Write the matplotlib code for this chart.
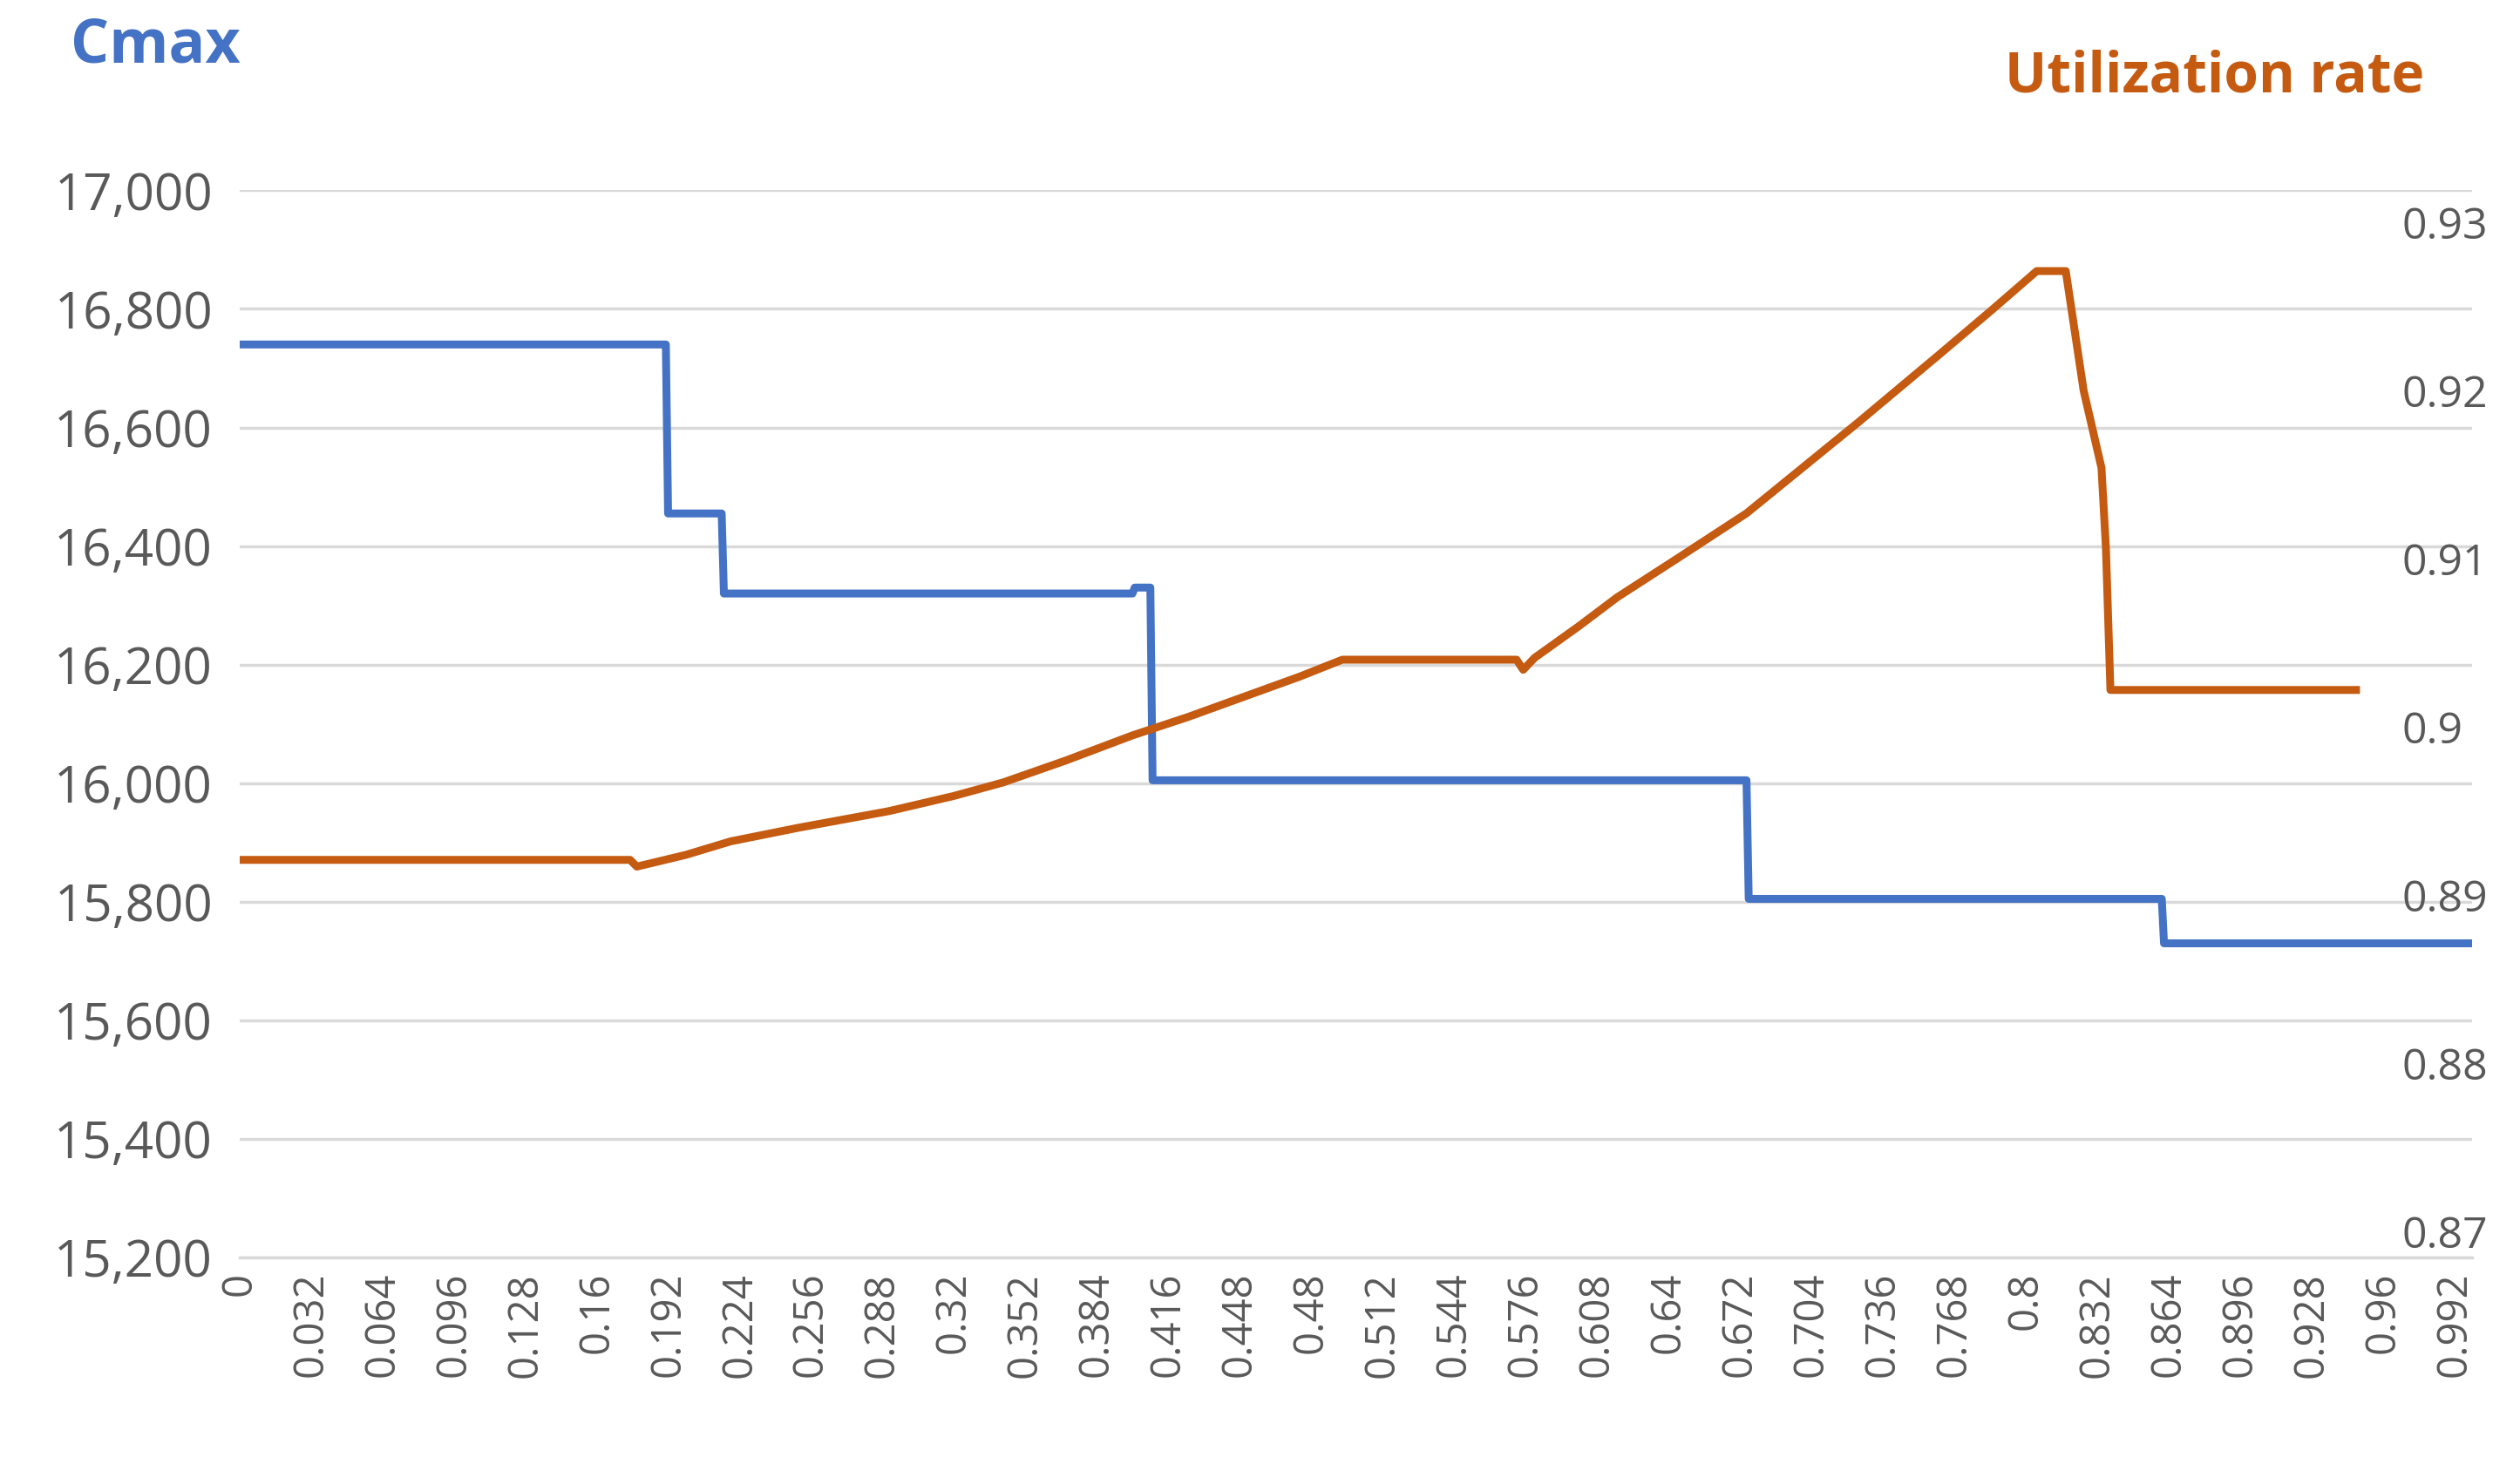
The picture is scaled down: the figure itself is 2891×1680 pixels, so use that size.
import matplotlib.pyplot as plt
import numpy as np

# Cmax (left axis), step series
cmax_x = [0, 0.191, 0.192, 0.216, 0.217, 0.400, 0.401, 0.408, 0.409, 0.675, 0.676, 0.861, 0.862, 1.0]
cmax_y = [16740, 16740, 16455, 16455, 16320, 16320, 16330, 16330, 16005, 16005, 15805, 15805, 15730, 15730]

# Utilization rate (right axis)
util_x = [0, 0.175, 0.178, 0.20, 0.22, 0.25, 0.291, 0.32, 0.342, 0.37, 0.400, 0.425, 0.450, 0.475, 0.494,
          0.572, 0.575, 0.580, 0.60, 0.617, 0.645, 0.675, 0.70, 0.725, 0.761, 0.785, 0.805, 0.818, 0.826,
          0.834, 0.836, 0.838, 0.948]
util_y = [0.8921, 0.8921, 0.8917, 0.8924, 0.8932, 0.8940, 0.8950, 0.8959, 0.8967, 0.8980, 0.8995, 0.9006,
          0.9018, 0.9030, 0.9040, 0.9040, 0.9034, 0.9041, 0.9060, 0.9077, 0.9101, 0.9127, 0.9154, 0.9181,
          0.9221, 0.9248, 0.9271, 0.9271, 0.9200, 0.9154, 0.9106, 0.9022, 0.9022]

xticks = np.round(np.arange(0, 1.0, 0.032), 3)
xlabels = [f"{t:g}" for t in xticks]

plt.rcParams['font.family'] = ['Open Sans', 'DejaVu Sans']
gray = "#595959"
blue = "#4472C4"
orange = "#C55A11"

fig = plt.figure(figsize=(28.91, 16.8), dpi=100)
ax = fig.add_axes([0.095, 0.141, 0.886, 0.729])
ax2 = ax.twinx()

ax.plot(cmax_x, cmax_y, color=blue, lw=6.5)
ax2.plot(util_x, util_y, color=orange, lw=6.5)

ax.set_xlim(0, 1.0)
ax.set_ylim(15200, 17000)
ax.set_yticks(np.arange(15200, 17001, 200))
ax.yaxis.set_major_formatter(plt.FuncFormatter(lambda v, p: f"{v:,.0f}"))
ax.grid(axis="y", color="#D9D9D9", lw=2.5)
ax.set_axisbelow(True)
ax.set_xticks(xticks)
ax.set_xticklabels(xlabels, rotation=90)

ax2.set_ylim(0.86846, 0.9319)
ax2.set_yticks([0.87, 0.88, 0.89, 0.9, 0.91, 0.92, 0.93])
ax2.set_yticklabels(["0.87", "0.88", "0.89", "0.9", "0.91", "0.92", "0.93"])

for a in (ax, ax2):
    for s in a.spines.values():
        s.set_visible(False)
    a.tick_params(length=0, colors=gray)
ax.spines["bottom"].set_visible(True)
ax.spines["bottom"].set_color("#D9D9D9")
ax.spines["bottom"].set_linewidth(2.5)
ax.tick_params(axis="y", labelsize=42, pad=22)
ax.tick_params(axis="x", labelsize=34, pad=12)
ax2.tick_params(axis="y", labelsize=36, pad=-58)

fig.text(0.028, 0.968, "Cmax", color=blue, fontsize=50, fontweight="bold", va="center")
fig.text(0.962, 0.947, "Utilization rate", color=orange, fontsize=46, fontweight="bold",
         va="center", ha="right")

fig.savefig("out.png", dpi=100)
